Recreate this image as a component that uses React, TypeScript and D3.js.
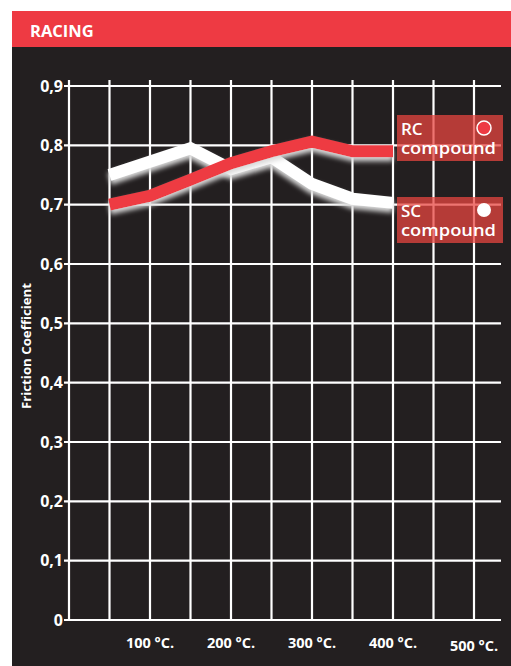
import React from "react";
import * as d3 from "d3";

const yTicks = [0, 0.1, 0.2, 0.3, 0.4, 0.5, 0.6, 0.7, 0.8, 0.9];
const yTickLabels = ["0", "0,1", "0,2", "0,3", "0,4", "0,5", "0,6", "0,7", "0,8", "0,9"];
const xGrid = [0, 50, 100, 150, 200, 250, 300, 350, 400, 450, 500];
const xLabelTemps = [100, 200, 300, 400, 500];
const xLabels = ["100 °C.", "200 °C.", "300 °C.", "400 °C.", "500 °C."];

const scTemps = [50, 150, 200, 250, 300, 350, 400];
const scValues = [0.75, 0.795, 0.76, 0.78, 0.735, 0.71, 0.703];
const rcTemps = [50, 100, 150, 200, 250, 300, 350, 400];
const rcValues = [0.7, 0.715, 0.742, 0.77, 0.79, 0.806, 0.79, 0.79];

const seriesNames = ["RC", "SC"];

export default function App() {
  const W = 511, H = 666;
  const x = d3.scaleLinear().domain([0, 500]).range([69, 474]);
  const y = d3.scaleLinear().domain([0, 0.9]).range([620, 86]);
  const line = d3
    .line<[number, number]>()
    .x((d) => x(d[0]))
    .y((d) => y(d[1]))
    .curve(d3.curveLinear);
  const sc = scTemps.map((t, i) => [t, scValues[i]] as [number, number]);
  const rc = rcTemps.map((t, i) => [t, rcValues[i]] as [number, number]);
  const font = "'Open Sans', sans-serif";

  return (
    <svg
      width={W}
      height={H}
      style={{ position: "absolute", left: 0, top: 0, display: "block" }}
    >
      <defs>
        <filter id="glow" x="-10%" y="-50%" width="120%" height="200%">
          <feColorMatrix
            in="SourceAlpha"
            type="matrix"
            values="0 0 0 0 0.7  0 0 0 0 0.7  0 0 0 0 0.7  0 0 0 1 0"
            result="gray"
          />
          <feGaussianBlur in="gray" stdDeviation="2.8" result="blur" />
          <feOffset in="blur" dx="0" dy="4" result="off" />
          <feMerge>
            <feMergeNode in="off" />
            <feMergeNode in="SourceGraphic" />
          </feMerge>
        </filter>
      </defs>
      <rect x={0} y={0} width={W} height={H} fill="#ffffff" />
      <rect x={12} y={11} width={W - 12} height={37} fill="#ee3a43" />
      <text x={30} y={37} fill="#ffffff" fontFamily={font} fontWeight={700} fontSize={16.5}>
        RACING
      </text>
      <rect x={12} y={47} width={W - 12} height={H - 47} fill="#231f20" />

      {/* vertical grid */}
      {xGrid.map((t) => (
        <line
          key={"v" + t}
          x1={x(t)}
          x2={x(t)}
          y1={80}
          y2={y(0)}
          stroke="#ffffff"
          strokeWidth={2.2}
        />
      ))}
      {/* horizontal grid */}
      {yTicks.map((t) => (
        <line
          key={"h" + t}
          x1={64}
          x2={501}
          y1={y(t)}
          y2={y(t)}
          stroke="#ffffff"
          strokeWidth={2.2}
        />
      ))}
      {yTicks.map((t, i) => (
        <text
          key={"yl" + t}
          x={63}
          y={y(t) + 5.5}
          textAnchor="end"
          fill="#ffffff"
          fontFamily={font}
          fontWeight={700}
          fontSize={16}
        >
          {yTickLabels[i]}
        </text>
      ))}
      {xLabelTemps.map((t, i) => (
        <text
          key={"xl" + t}
          x={x(t)}
          y={i === 4 ? 651 : 648}
          textAnchor="middle"
          fill="#ffffff"
          fontFamily={font}
          fontWeight={700}
          fontSize={14.5}
        >
          {xLabels[i]}
        </text>
      ))}
      <text
        transform={`translate(31,346) rotate(-90)`}
        textAnchor="middle"
        fill="#ffffff"
        fontFamily={font}
        fontWeight={700}
        fontSize={12}
        textLength={126}
        lengthAdjust="spacingAndGlyphs"
      >
        Friction Coefficient
      </text>

      {/* series */}
      <path
        d={line(sc) || ""}
        fill="none"
        stroke="#ffffff"
        strokeWidth={12}
        strokeLinejoin="miter"
        filter="url(#glow)"
      />
      <path
        d={line(rc) || ""}
        fill="none"
        stroke="#ee3a43"
        strokeWidth={12}
        strokeLinejoin="miter"
        filter="url(#glow)"
      />

      {/* legend */}
      {[0, 1].map((i) => {
        const top = i === 0 ? 115 : 197;
        return (
          <g key={"lg" + i}>
            <rect x={397} y={top} width={106} height={46} fill="#e8453f" opacity={0.74} />
            <text x={401} y={top + 19.5} fill="#ffffff" fontFamily={font} fontWeight={600} fontSize={17}>
              {seriesNames[i]}
            </text>
            <text
              x={401}
              y={top + 39}
              fill="#ffffff"
              fontFamily={font}
              fontWeight={600}
              fontSize={17}
              textLength={95}
              lengthAdjust="spacingAndGlyphs"
            >
              compound
            </text>
            <circle
              cx={484}
              cy={top + 13}
              r={7}
              fill={i === 0 ? "#ee3a43" : "#ffffff"}
              stroke="#ffffff"
              strokeWidth={i === 0 ? 1.5 : 0}
            />
          </g>
        );
      })}
    </svg>
  );
}
